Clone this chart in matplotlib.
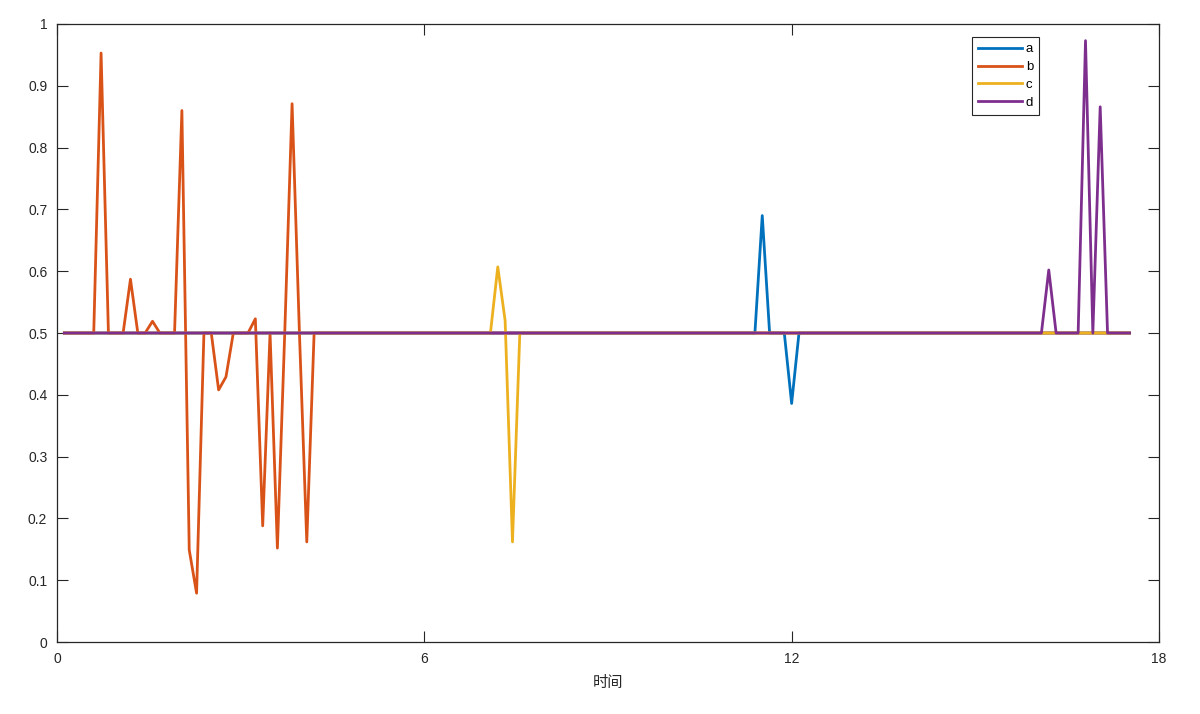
import numpy as np
import matplotlib.pyplot as plt
import matplotlib

matplotlib.rcParams['font.family'] = ['Liberation Sans', 'Noto Sans CJK SC']
matplotlib.rcParams['axes.unicode_minus'] = False

# time axis: 146 samples, 0.12 apart
time = np.round(np.arange(1, 147) * 0.12, 2)

a = [0.5, 0.5, 0.5, 0.5, 0.5, 0.5, 0.5, 0.5, 0.5, 0.5,
     0.5, 0.5, 0.5, 0.5, 0.5, 0.5, 0.5, 0.5, 0.5, 0.5,
     0.5, 0.5, 0.5, 0.5, 0.5, 0.5, 0.5, 0.5, 0.5, 0.5,
     0.5, 0.5, 0.5, 0.5, 0.5, 0.5, 0.5, 0.5, 0.5, 0.5,
     0.5, 0.5, 0.5, 0.5, 0.5, 0.5, 0.5, 0.5, 0.5, 0.5,
     0.5, 0.5, 0.5, 0.5, 0.5, 0.5, 0.5, 0.5, 0.5, 0.5,
     0.5, 0.5, 0.5, 0.5, 0.5, 0.5, 0.5, 0.5, 0.5, 0.5,
     0.5, 0.5, 0.5, 0.5, 0.5, 0.5, 0.5, 0.5, 0.5, 0.5,
     0.5, 0.5, 0.5, 0.5, 0.5, 0.5, 0.5, 0.5, 0.5, 0.5,
     0.5, 0.5, 0.5, 0.5, 0.5, 0.69, 0.5, 0.5, 0.5, 0.386,
     0.5, 0.5, 0.5, 0.5, 0.5, 0.5, 0.5, 0.5, 0.5, 0.5,
     0.5, 0.5, 0.5, 0.5, 0.5, 0.5, 0.5, 0.5, 0.5, 0.5,
     0.5, 0.5, 0.5, 0.5, 0.5, 0.5, 0.5, 0.5, 0.5, 0.5,
     0.5, 0.5, 0.5, 0.5, 0.5, 0.5, 0.5, 0.5, 0.5, 0.5,
     0.5, 0.5, 0.5, 0.5, 0.5, 0.5]

b = [0.5, 0.5, 0.5, 0.5, 0.5, 0.953, 0.5, 0.5, 0.5, 0.587,
     0.5, 0.5, 0.519, 0.5, 0.5, 0.5, 0.86, 0.149, 0.079, 0.5,
     0.5, 0.408, 0.429, 0.5, 0.5, 0.5, 0.523, 0.188, 0.5, 0.152,
     0.5, 0.871, 0.5, 0.162, 0.5, 0.5, 0.5, 0.5, 0.5, 0.5,
     0.5, 0.5, 0.5, 0.5, 0.5, 0.5, 0.5, 0.5, 0.5, 0.5,
     0.5, 0.5, 0.5, 0.5, 0.5, 0.5, 0.5, 0.5, 0.5, 0.5,
     0.5, 0.5, 0.5, 0.5, 0.5, 0.5, 0.5, 0.5, 0.5, 0.5,
     0.5, 0.5, 0.5, 0.5, 0.5, 0.5, 0.5, 0.5, 0.5, 0.5,
     0.5, 0.5, 0.5, 0.5, 0.5, 0.5, 0.5, 0.5, 0.5, 0.5,
     0.5, 0.5, 0.5, 0.5, 0.5, 0.5, 0.5, 0.5, 0.5, 0.5,
     0.5, 0.5, 0.5, 0.5, 0.5, 0.5, 0.5, 0.5, 0.5, 0.5,
     0.5, 0.5, 0.5, 0.5, 0.5, 0.5, 0.5, 0.5, 0.5, 0.5,
     0.5, 0.5, 0.5, 0.5, 0.5, 0.5, 0.5, 0.5, 0.5, 0.5,
     0.5, 0.5, 0.5, 0.5, 0.5, 0.5, 0.5, 0.5, 0.5, 0.5,
     0.5, 0.5, 0.5, 0.5, 0.5, 0.5]

c = [0.5, 0.5, 0.5, 0.5, 0.5, 0.5, 0.5, 0.5, 0.5, 0.5,
     0.5, 0.5, 0.5, 0.5, 0.5, 0.5, 0.5, 0.5, 0.5, 0.5,
     0.5, 0.5, 0.5, 0.5, 0.5, 0.5, 0.5, 0.5, 0.5, 0.5,
     0.5, 0.5, 0.5, 0.5, 0.5, 0.5, 0.5, 0.5, 0.5, 0.5,
     0.5, 0.5, 0.5, 0.5, 0.5, 0.5, 0.5, 0.5, 0.5, 0.5,
     0.5, 0.5, 0.5, 0.5, 0.5, 0.5, 0.5, 0.5, 0.5, 0.607,
     0.52, 0.162, 0.5, 0.5, 0.5, 0.5, 0.5, 0.5, 0.5, 0.5,
     0.5, 0.5, 0.5, 0.5, 0.5, 0.5, 0.5, 0.5, 0.5, 0.5,
     0.5, 0.5, 0.5, 0.5, 0.5, 0.5, 0.5, 0.5, 0.5, 0.5,
     0.5, 0.5, 0.5, 0.5, 0.5, 0.5, 0.5, 0.5, 0.5, 0.5,
     0.5, 0.5, 0.5, 0.5, 0.5, 0.5, 0.5, 0.5, 0.5, 0.5,
     0.5, 0.5, 0.5, 0.5, 0.5, 0.5, 0.5, 0.5, 0.5, 0.5,
     0.5, 0.5, 0.5, 0.5, 0.5, 0.5, 0.5, 0.5, 0.5, 0.5,
     0.5, 0.5, 0.5, 0.5, 0.5, 0.5, 0.5, 0.5, 0.5, 0.5,
     0.5, 0.5, 0.5, 0.5, 0.5, 0.5]

d = [0.5, 0.5, 0.5, 0.5, 0.5, 0.5, 0.5, 0.5, 0.5, 0.5,
     0.5, 0.5, 0.5, 0.5, 0.5, 0.5, 0.5, 0.5, 0.5, 0.5,
     0.5, 0.5, 0.5, 0.5, 0.5, 0.5, 0.5, 0.5, 0.5, 0.5,
     0.5, 0.5, 0.5, 0.5, 0.5, 0.5, 0.5, 0.5, 0.5, 0.5,
     0.5, 0.5, 0.5, 0.5, 0.5, 0.5, 0.5, 0.5, 0.5, 0.5,
     0.5, 0.5, 0.5, 0.5, 0.5, 0.5, 0.5, 0.5, 0.5, 0.5,
     0.5, 0.5, 0.5, 0.5, 0.5, 0.5, 0.5, 0.5, 0.5, 0.5,
     0.5, 0.5, 0.5, 0.5, 0.5, 0.5, 0.5, 0.5, 0.5, 0.5,
     0.5, 0.5, 0.5, 0.5, 0.5, 0.5, 0.5, 0.5, 0.5, 0.5,
     0.5, 0.5, 0.5, 0.5, 0.5, 0.5, 0.5, 0.5, 0.5, 0.5,
     0.5, 0.5, 0.5, 0.5, 0.5, 0.5, 0.5, 0.5, 0.5, 0.5,
     0.5, 0.5, 0.5, 0.5, 0.5, 0.5, 0.5, 0.5, 0.5, 0.5,
     0.5, 0.5, 0.5, 0.5, 0.5, 0.5, 0.5, 0.5, 0.5, 0.5,
     0.5, 0.5, 0.5, 0.5, 0.602, 0.5, 0.5, 0.5, 0.5, 0.973,
     0.5, 0.866, 0.5, 0.5, 0.5, 0.5]

labels = ['a', 'b', 'c', 'd']
colors = ['#0072BD', '#D95319', '#EDB120', '#7E2F8E']  # MATLAB default order
dark = '#262626'

fig = plt.figure(figsize=(12, 7.14), dpi=100)
ax = fig.add_axes([0.0475, 0.1008, 0.9183, 0.8656])

for ys, lab, col in zip([a, b, c, d], labels, colors):
    ax.plot(time, ys, color=col, linewidth=2, label=lab)

ax.set_xlim(0, 18)
ax.set_ylim(0, 1)
ax.set_xticks([0, 6, 12, 18])
ax.set_yticks(np.round(np.arange(0, 1.01, 0.1), 1))
ax.set_yticklabels(['0', '0.1', '0.2', '0.3', '0.4', '0.5', '0.6', '0.7', '0.8', '0.9', '1'])
ax.tick_params(direction='in', length=8, width=0.8, colors=dark, labelsize=10,
               top=True, right=True, pad=7)
for s in ax.spines.values():
    s.set_color(dark)
    s.set_linewidth(0.9)

ax.set_xlabel('时间', fontsize=11, color=dark, labelpad=6,
              family=['Noto Sans CJK SC', 'DejaVu Sans'])

leg = ax.legend(loc='upper left', bbox_to_anchor=(0.830, 0.9785), fontsize=9.5,
                handlelength=3.4, handletextpad=0.25, labelspacing=0.42,
                borderpad=0.45, borderaxespad=0, fancybox=False, framealpha=1)
leg.get_frame().set_edgecolor(dark)
leg.get_frame().set_linewidth(0.8)

fig.savefig('out.png', dpi=100)
plt.close(fig)
